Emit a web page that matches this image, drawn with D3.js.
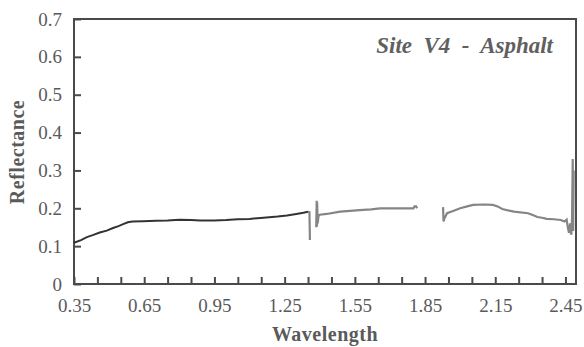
<!DOCTYPE html>
<html>
<head>
<meta charset="utf-8">
<script src="https://cdn.jsdelivr.net/npm/d3@7"></script>
<style>
  html, body { margin: 0; padding: 0; background: #fff; }
  svg { display: block; }
</style>
</head>
<body>
<svg id="chart" width="584" height="347"></svg>
<script>
// ---- data ----
const title = "Site  V4  -  Asphalt";
const xLabel = "Wavelength";
const yLabel = "Reflectance";
const xTickLabels = [0.35, 0.65, 0.95, 1.25, 1.55, 1.85, 2.15, 2.45];
const xMinorTicks = [0.35,0.45,0.55,0.65,0.75,0.85,0.95,1.05,1.15,1.25,1.35,1.45,1.55,1.65,1.75,1.85,1.95,2.05,2.15,2.25,2.35,2.45];
const yTickLabels = [0, 0.1, 0.2, 0.3, 0.4, 0.5, 0.6, 0.7];

// visible / near-IR part (dark trace)
const visWavelength = [0.35,0.38,0.405,0.43,0.46,0.49,0.517,0.54,0.56,0.58,0.60,0.645,0.70,0.75,0.80,0.85,0.89,0.95,1.00,1.05,1.10,1.16,1.22,1.26,1.30,1.33,1.35];
const visReflectance = [0.109,0.116,0.124,0.129,0.136,0.141,0.148,0.153,0.158,0.163,0.165,0.166,0.167,0.168,0.170,0.169,0.168,0.168,0.169,0.171,0.172,0.175,0.178,0.181,0.185,0.188,0.191];

// short-wave IR part (grey trace), null = gap in the record
const swirWavelength = [1.35,1.356,1.358,1.36,1.385,1.387,1.388,1.389,1.391,1.395,1.40,1.43,1.487,1.53,1.57,1.62,1.657,1.70,1.75,1.80,1.805,1.812,1.816,
  1.87,1.927,1.929,1.932,1.944,1.97,2.00,2.03,2.055,2.10,2.14,2.16,2.18,2.23,2.29,2.31,2.33,2.35,2.37,2.40,2.43,2.445,2.455,2.46,2.465,2.47,2.475,2.478,2.481,2.483,2.485];
const swirReflectance = [0.191,0.19,0.116,null,0.15,0.22,0.152,0.215,0.16,0.18,0.183,0.185,0.191,0.193,0.195,0.197,0.2,0.2,0.2,0.2,0.205,0.205,0.2,
  null,0.203,0.165,0.172,0.187,0.193,0.2,0.205,0.209,0.21,0.209,0.205,0.198,0.191,0.187,0.182,0.177,0.175,0.172,0.171,0.169,0.165,0.17,0.15,0.135,0.16,0.13,0.17,0.33,0.14,0.3];

// ---- layout ----
const svg = d3.select("#chart");
const margin = {left: 74, right: 8, top: 19, bottom: 63};
const W = 584, H = 347;
const x = d3.scaleLinear().domain([0.35, 2.495]).range([margin.left, W - margin.right]);
const y = d3.scaleLinear().domain([0, 0.7]).range([H - margin.bottom, margin.top]);

const axisColor = "#4a4a4a";
const labelColor = "#5a5a5a";
const fontFam = "'Liberation Serif', 'Times New Roman', serif";

// frame
svg.append("rect")
  .attr("x", x(0.35)).attr("y", y(0.7))
  .attr("width", x(2.495) - x(0.35)).attr("height", y(0) - y(0.7))
  .attr("fill", "none").attr("stroke", axisColor).attr("stroke-width", 2);

// y axis (inward ticks)
const yAxis = d3.axisLeft(y).tickValues(yTickLabels).tickSize(-7).tickPadding(12)
  .tickFormat(d => d === 0 ? "0" : d3.format(".1f")(d));
const gy = svg.append("g").attr("transform", `translate(${x(0.35)},0)`).call(yAxis);
gy.select(".domain").remove();
gy.selectAll("line").attr("stroke", axisColor).attr("stroke-width", 2);
gy.selectAll("text").attr("font-family", fontFam).attr("font-size", 19).attr("fill", labelColor);

// x axis minor inward ticks
const xAxisMinor = d3.axisBottom(x).tickValues(xMinorTicks).tickSize(-7).tickFormat("");
const gxm = svg.append("g").attr("transform", `translate(0,${y(0)})`).call(xAxisMinor);
gxm.select(".domain").remove();
gxm.selectAll("line").attr("stroke", axisColor).attr("stroke-width", 2);

// x axis labels
const xAxis = d3.axisBottom(x).tickValues(xTickLabels).tickSize(0).tickPadding(15)
  .tickFormat(d3.format(".2f"));
const gx = svg.append("g").attr("transform", `translate(0,${y(0)})`).call(xAxis);
gx.select(".domain").remove();
gx.selectAll("text").attr("font-family", fontFam).attr("font-size", 19).attr("fill", labelColor);

// axis titles
svg.append("text")
  .attr("x", (x(0.35) + x(2.495)) / 2).attr("y", 341)
  .attr("text-anchor", "middle")
  .attr("font-family", fontFam).attr("font-weight", "bold").attr("font-size", 20)
  .attr("letter-spacing", 0.5).attr("fill", labelColor)
  .text(xLabel);

svg.append("text")
  .attr("transform", `translate(24,152) rotate(-90)`)
  .attr("text-anchor", "middle")
  .attr("font-family", fontFam).attr("font-weight", "bold").attr("font-size", 20)
  .attr("letter-spacing", 0.5).attr("fill", labelColor)
  .text(yLabel);

// title
svg.append("text")
  .attr("x", 553).attr("y", 53)
  .attr("text-anchor", "end")
  .attr("font-family", fontFam).attr("font-weight", "bold").attr("font-style", "italic")
  .attr("font-size", 23).attr("fill", "#606060")
  .attr("xml:space", "preserve").style("white-space", "pre")
  .text(title);

// traces
const line = d3.line()
  .defined(d => d[1] !== null)
  .x(d => x(d[0])).y(d => y(d[1]));

svg.append("path")
  .datum(visWavelength.map((w, i) => [w, visReflectance[i]]))
  .attr("d", line).attr("fill", "none")
  .attr("stroke", "#333").attr("stroke-width", 2);

svg.append("path")
  .datum(swirWavelength.map((w, i) => [w, swirReflectance[i]]))
  .attr("d", line).attr("fill", "none")
  .attr("stroke", "#858585").attr("stroke-width", 2.2);
</script>
</body>
</html>
